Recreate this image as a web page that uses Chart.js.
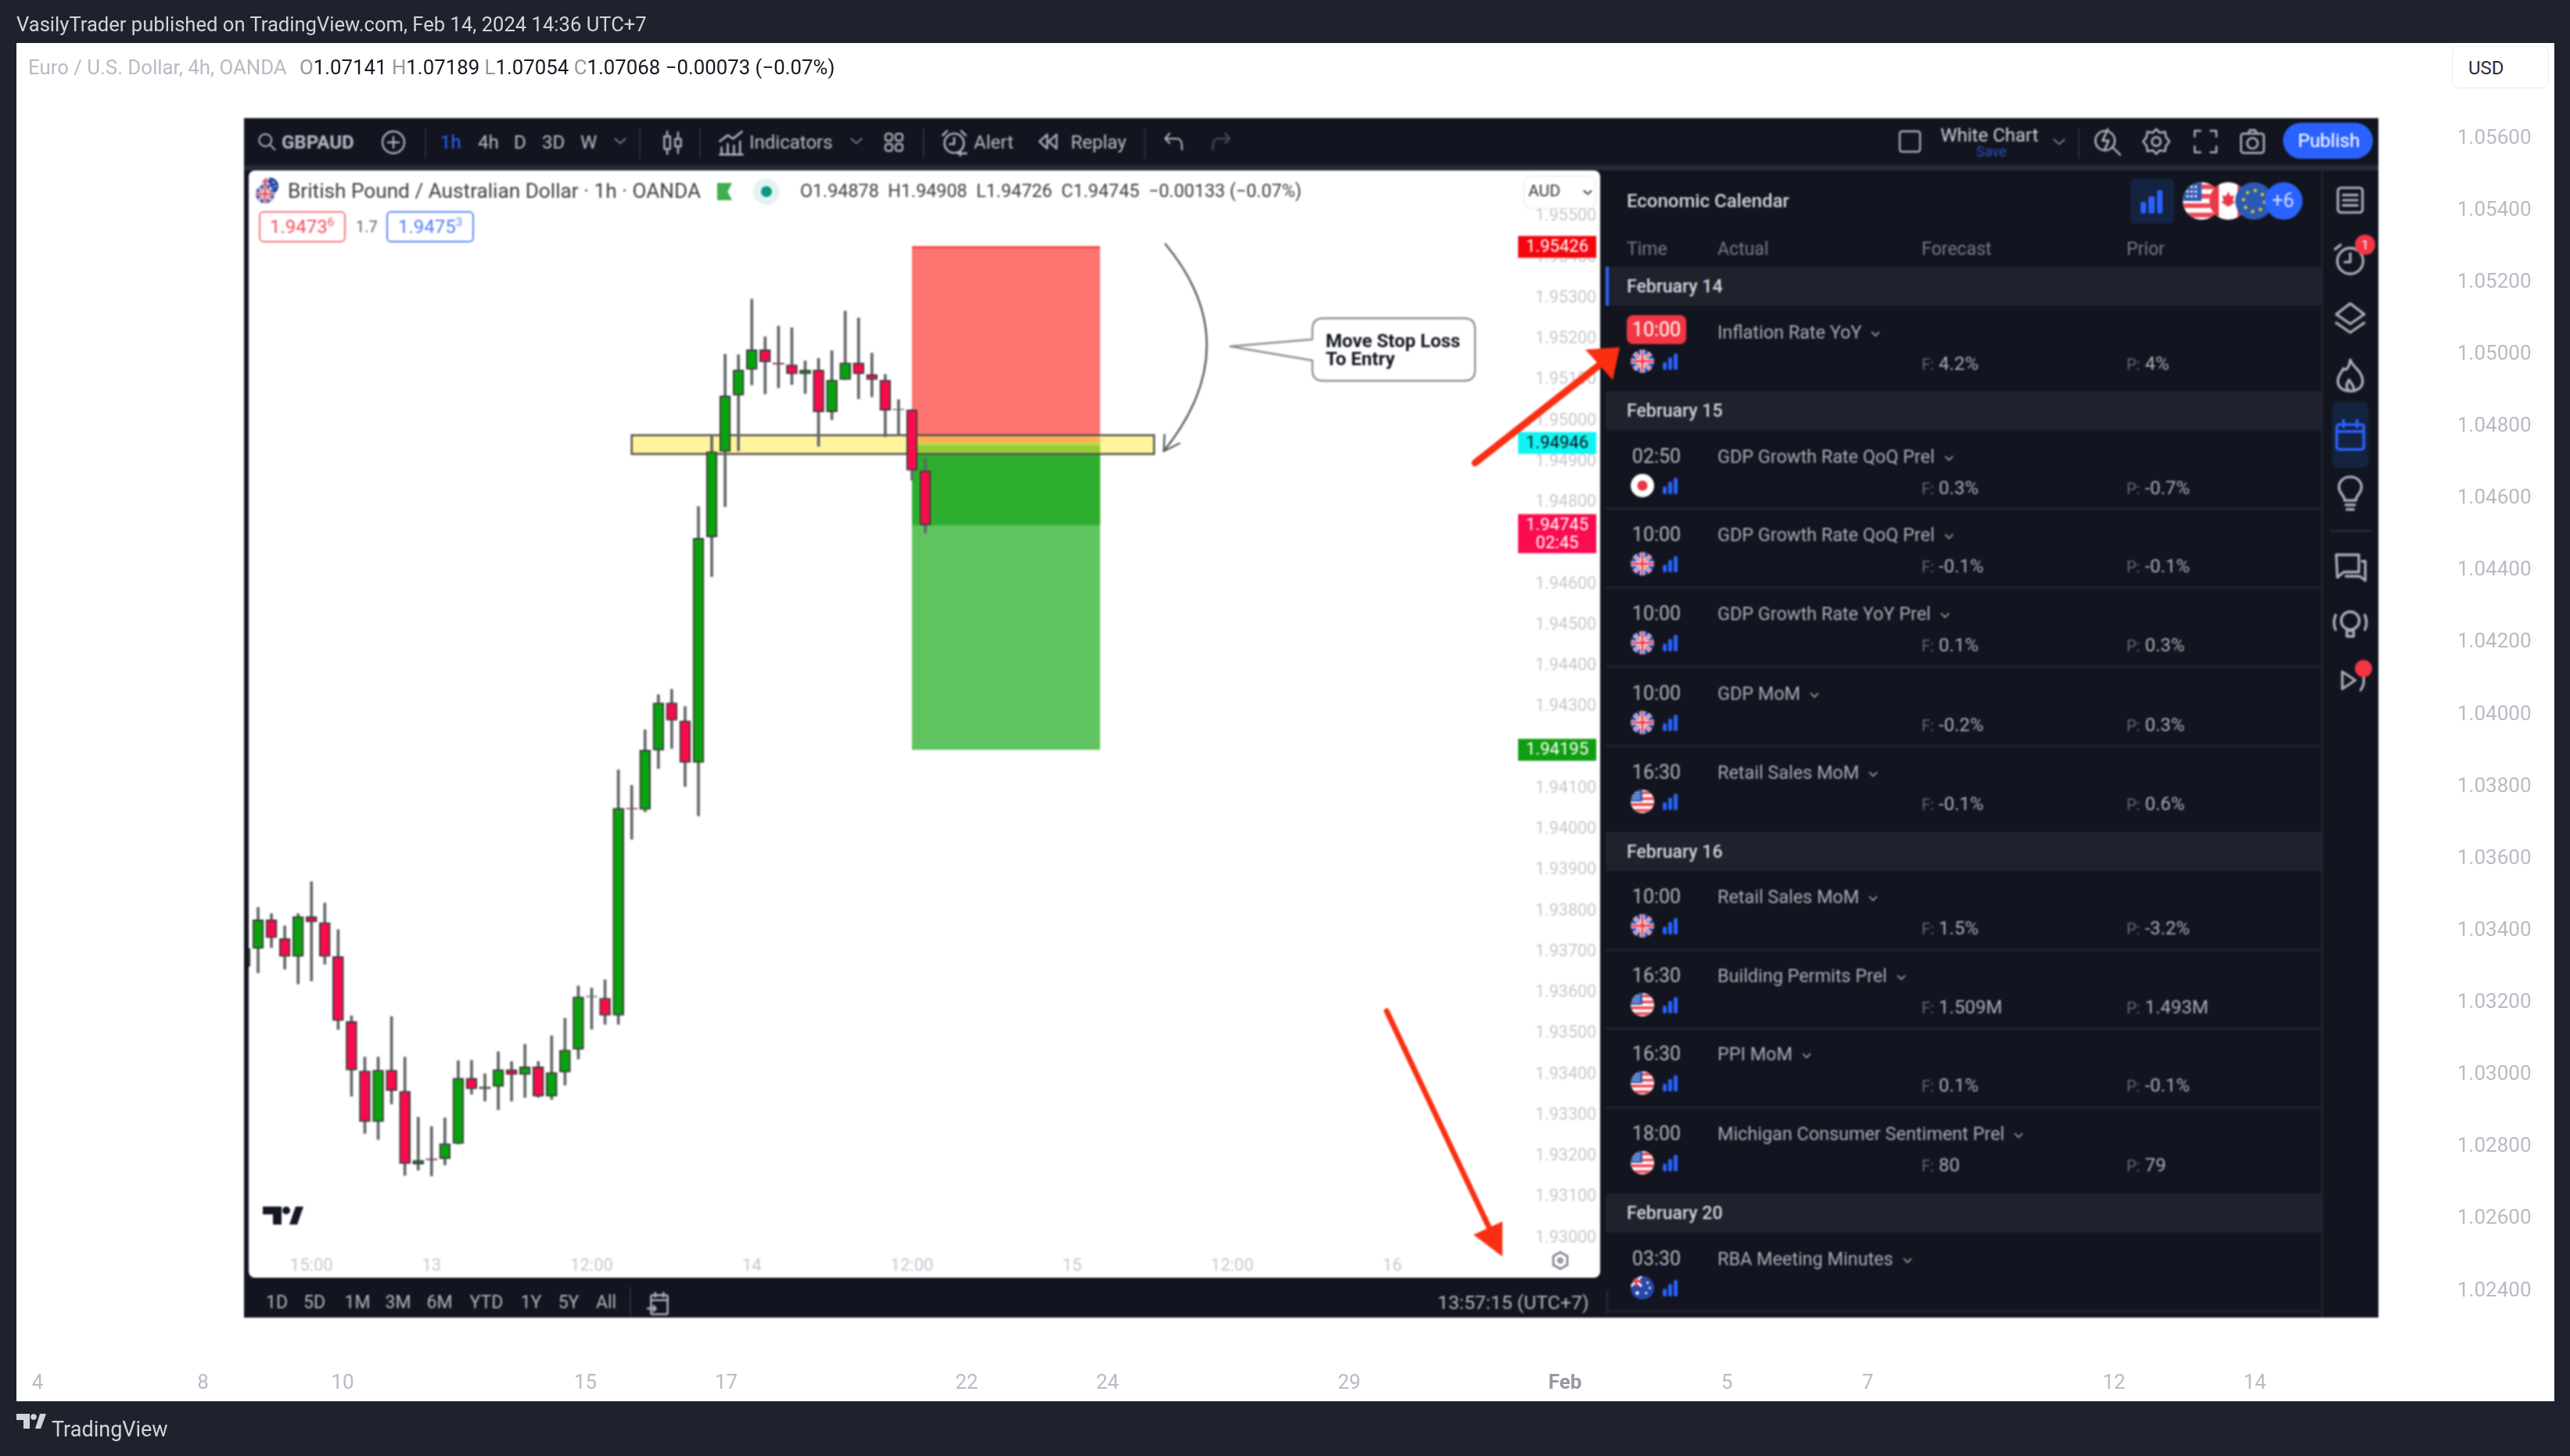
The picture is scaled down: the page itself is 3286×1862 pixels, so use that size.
<!DOCTYPE html>
<html>
<head>
<meta charset="utf-8">
<title>GBPAUD</title>
<script src="https://cdn.jsdelivr.net/npm/chart.js@4/dist/chart.umd.min.js"></script>
<style>
html, body { margin: 0; padding: 0; background: #1e222d; width: 3286px; height: 1862px; overflow: hidden; font-family: Roboto, sans-serif; }
#page { position: absolute; left: 0; top: 0; width: 3286px; height: 1862px; overflow: hidden; }
#outerWhite { position: absolute; left: 21px; top: 55px; width: 3245px; height: 1737px; background: #fff; }
#outerCanvas { position: absolute; left: 21px; top: 55px; }
#shot { position: absolute; left: 0; top: 0; width: 3286px; height: 1862px; filter: blur(0.8px); }
#chartCanvas { position: absolute; left: 318px; top: 218px; }
.box { position: absolute; }
.txt { position: absolute; white-space: nowrap; transform: translateY(-50%); line-height: 1.2; }
.ico { position: absolute; overflow: visible; fill: none; stroke: #a9acb6; stroke-width: 2.4; stroke-linecap: round; stroke-linejoin: round; }
.flag { position: absolute; border-radius: 50%; overflow: hidden; }
</style>
</head>
<body>
<div id="page">
  <div id="outerWhite"></div>
  <canvas id="outerCanvas" width="3245" height="1737"></canvas>
  <div id="shot"></div>
</div>
<script>
/* GBPAUD 1h candles. index -1 is the one cut by the left edge */
let barIndex = [-1,0,1,2,3,4,5,6,7,8,9,10,11,12,13,14,15,16,17,18,19,20,21,22,23,24,25,26,27,28,29,30,31,32,33,34,35,36,37,38,39,40,41,42,43,44,45,46,47,48,49,50]
let opens = [1.93665,1.93709,1.93779,1.93733,1.93689,1.93787,1.93772,1.93689,1.93530,1.93409,1.93285,1.93411,1.93359,1.93181,1.93194,1.93194,1.93231,1.93391,1.93365,1.93371,1.93412,1.93400,1.93419,1.93347,1.93406,1.93462,1.93590,1.93587,1.93545,1.94052,1.94049,1.94194,1.94310,1.94266,1.94164,1.94716,1.94925,1.95063,1.95126,1.95174,1.95142,1.95137,1.95115,1.95125,1.95022,1.95101,1.95142,1.95114,1.95100,1.95027,1.95027,1.94878]
let highs = [1.93725,1.93809,1.93794,1.93764,1.93794,1.93872,1.93820,1.93755,1.93544,1.93443,1.93443,1.93542,1.93443,1.93296,1.93273,1.93294,1.93434,1.93435,1.93402,1.93456,1.93432,1.93474,1.93432,1.93495,1.93538,1.93617,1.93612,1.93632,1.94146,1.94108,1.94244,1.94330,1.94343,1.94301,1.94791,1.94965,1.95163,1.95162,1.95298,1.95206,1.95232,1.95228,1.95147,1.95153,1.95172,1.95269,1.95252,1.95166,1.95114,1.95052,1.95028,1.94908]
let lows = [1.93630,1.93649,1.93711,1.93658,1.93622,1.93629,1.93670,1.93510,1.93347,1.93256,1.93241,1.93328,1.93153,1.93166,1.93152,1.93179,1.93230,1.93352,1.93335,1.93314,1.93335,1.93344,1.93344,1.93339,1.93374,1.93438,1.93511,1.93523,1.93523,1.93976,1.94043,1.94149,1.94198,1.94105,1.94033,1.94619,1.94790,1.94927,1.95088,1.95066,1.95081,1.95089,1.95067,1.94938,1.95003,1.95101,1.95054,1.95059,1.94961,1.94966,1.94855,1.94726]
let closes = [1.93709,1.93779,1.93735,1.93689,1.93787,1.93774,1.93689,1.93532,1.93411,1.93285,1.93411,1.93361,1.93182,1.93190,1.93191,1.93231,1.93391,1.93365,1.93370,1.93412,1.93400,1.93419,1.93347,1.93405,1.93460,1.93590,1.93592,1.93545,1.94052,1.94050,1.94194,1.94310,1.94267,1.94164,1.94713,1.94925,1.95061,1.95125,1.95174,1.95144,1.95139,1.95115,1.95125,1.95022,1.95100,1.95142,1.95115,1.95101,1.95026,1.95029,1.94879,1.94745]

let priceTicks = [1.955,1.954,1.953,1.952,1.951,1.950,1.949,1.948,1.947,1.946,1.945,1.944,1.943,1.942,1.941,1.940,1.939,1.938,1.937,1.936,1.935,1.934,1.933,1.932,1.931,1.930]
let timeTickBars = [4,13,25,37,49,61,73,85]
let timeTickLabels = ['15:00','13','12:00','14','12:00','15','12:00','16']

/* short position tool and the drawn zone */
let stopPrice = 1.95426
let entryPrice = 1.94946
let profitTop = 1.94940
let lastPrice = 1.94745
let targetPrice = 1.94195
let positionBars = [49, 63.1]
let zonePrices = [1.94965, 1.94919]
let zoneBars = [28, 67.15]

let tagPrices = [1.95426, 1.94946, 1.94745, 1.94195]
let tagLabels = [['1.95426'], ['1.94946'], ['1.94745', '02:45'], ['1.94195']]
let tagColors = ['#f5060f', '#10f4f4', '#fb0b4f', '#0f9e12']
let tagTextColors = ['#fff', '#111', '#fff', '#fff']

/* the EURUSD chart behind the screenshot only shows its axes */
let outerPriceTicks = [1.056,1.054,1.052,1.050,1.048,1.046,1.044,1.042,1.040,1.038,1.036,1.034,1.032,1.030,1.028,1.026,1.024]
let outerDayBars = [0,14.1,26,46.7,58.7,79.2,91.2,111.8,130.2,144,156,177,189]
let outerDayLabels = ['4','8','10','15','17','22','24','29','Feb','5','7','12','14']

/* calendar */
let rangeButtons = ['1D','5D','1M','3M','6M','YTD','1Y','5Y','All']
let dateLabels = ['February 14','February 15','February 16','February 20']
let eventTimes = ['10:00','02:50','10:00','10:00','10:00','16:30','10:00','16:30','16:30','18:00','03:30']
let eventNames = ['Inflation Rate YoY','GDP Growth Rate QoQ Prel','GDP Growth Rate QoQ Prel','GDP Growth Rate YoY Prel','GDP MoM','Retail Sales MoM','Retail Sales MoM','Building Permits Prel','PPI MoM','Michigan Consumer Sentiment Prel','RBA Meeting Minutes']
let eventFlags = ['uk','jp','uk','uk','uk','us','uk','us','us','us','au']
let eventForecast = ['4.2%','0.3%','-0.1%','0.1%','-0.2%','-0.1%','1.5%','1.509M','0.1%','80','']
let eventPrior = ['4%','-0.7%','-0.1%','0.3%','0.3%','0.6%','-3.2%','1.493M','-0.1%','79','']

/* layout of the screenshot, page pixels */
let dateRowY = [366, 525, 1089, 1551]
let eventRowY = [424, 583, 683, 784, 886, 987, 1146, 1247, 1347, 1449, 1609]
let separatorY = [650, 751, 852, 953, 1214, 1315, 1416, 1676]
let rangeButtonX = [354, 402, 457, 509, 562, 622, 679, 727, 775]

let shot = document.querySelector('#shot')

function box(x, y, w, h, bg, extra) {
    let d = document.createElement('div')
    d.className = 'box'
    d.style.cssText = `left:${x}px;top:${y}px;width:${w}px;height:${h}px;background:${bg};${extra || ''}`
    shot.appendChild(d)
    return d
}

function txt(s, x, y, size, color, extra, parent) {
    let d = document.createElement('div')
    d.className = 'txt'
    d.style.cssText = `left:${x}px;top:${y}px;font-size:${size}px;color:${color};${extra || ''}`
    d.innerHTML = s
    ;(parent || shot).appendChild(d)
    return d
}

// icon centred on x,y, drawn in a 32x32 box
function ico(x, y, size, inner, extra) {
    shot.insertAdjacentHTML('beforeend',
        `<svg class="ico" viewBox="0 0 32 32" style="left:${x - size / 2}px;top:${y - size / 2}px;width:${size}px;height:${size}px;${extra || ''}">${inner}</svg>`)
}

function chevronHtml(color) {
    return `<svg width="12" height="8" viewBox="0 0 12 8" style="margin-left:12px;vertical-align:middle;overflow:visible"><path d="M1 1.5 L6 6.5 L11 1.5" fill="none" stroke="${color}" stroke-width="1.8"/></svg>`
}

function flagHtml(kind, x, y, r) {
    let inner = ''
    if (kind == 'uk') {
        inner = '<rect width="32" height="32" fill="#2450b8"/><path d="M0 0L32 32M32 0L0 32" stroke="#fff" stroke-width="5"/><path d="M0 0L32 32M32 0L0 32" stroke="#e8394a" stroke-width="1.8"/><path d="M16 0V32M0 16H32" stroke="#fff" stroke-width="6"/><path d="M16 0V32M0 16H32" stroke="#e8394a" stroke-width="3"/>'
    } else if (kind == 'us') {
        inner = '<rect width="32" height="32" fill="#fff"/><path d="M16 4H32M16 12H32M0 20H32M0 28H32" stroke="#ef4a56" stroke-width="4"/><rect width="16" height="16" fill="#2f5bb0"/><path d="M3 4h10M3 8h10M3 12h10" stroke="#fff" stroke-width="1.6" stroke-dasharray="2 1.5"/>'
    } else if (kind == 'jp') {
        inner = '<rect width="32" height="32" fill="#fff"/><circle cx="16" cy="16" r="7" fill="#e8394a"/>'
    } else if (kind == 'ca') {
        inner = '<rect width="32" height="32" fill="#fff"/><rect width="8" height="32" fill="#e8394a"/><rect x="24" width="8" height="32" fill="#e8394a"/><path d="M16 8l2 4 3-1-1 5 2 1-6 4-6-4 2-1-1-5 3 1z" fill="#e8394a"/>'
    } else if (kind == 'eu') {
        inner = '<rect width="32" height="32" fill="#2a5ab4"/><circle cx="16" cy="16" r="9" fill="none" stroke="#f5c518" stroke-width="2.6" stroke-dasharray="2.4 4.6"/>'
    } else if (kind == 'au') {
        inner = '<rect width="32" height="32" fill="#2548a8"/><path d="M0 0L15 14M15 0L0 14" stroke="#fff" stroke-width="3"/><path d="M7.5 0V14M0 7H15" stroke="#e8394a" stroke-width="3"/><circle cx="23" cy="9" r="1.6" fill="#fff"/><circle cx="26" cy="16" r="1.6" fill="#fff"/><circle cx="21" cy="23" r="1.6" fill="#fff"/><circle cx="9" cy="23" r="2.4" fill="#fff"/>'
    }
    shot.insertAdjacentHTML('beforeend',
        `<svg class="flag" viewBox="0 0 32 32" style="left:${x - r}px;top:${y - r}px;width:${2 * r}px;height:${2 * r}px">${inner}</svg>`)
}

function importanceBars(x, y, w, h) {
    let bw = w * 0.26
    box(x, y + h * 0.5, bw, h * 0.5, '#2962ff', 'border-radius:2px')
    box(x + w * 0.37, y + h * 0.25, bw, h * 0.75, '#2962ff', 'border-radius:2px')
    box(x + w * 0.74, y, bw, h, '#2962ff', 'border-radius:2px')
}

/* dark screenshot frame */
let panelBg = '#12151f'
box(312, 151, 2729, 1534, panelBg)
box(312, 211, 2729, 7, '#262a35')
box(2968, 218, 2, 1467, '#23262f')
box(318, 218, 1728, 1416, '#fff', 'border-radius:8px')

let chartCanvas = document.createElement('canvas')
chartCanvas.id = 'chartCanvas'
chartCanvas.width = 1728
chartCanvas.height = 1416
shot.appendChild(chartCanvas)

/* top toolbar */
let toolGrey = '#b2b5be'
ico(341, 181, 28, '<circle cx="14" cy="14" r="9"/><path d="M21 21L28 28"/>')
txt('GBPAUD', 360, 182, 24, toolGrey, 'font-weight:700')
ico(503, 182, 32, '<circle cx="16" cy="16" r="14"/><path d="M16 9V23M9 16H23"/>')
let toolSeps = [543, 817, 894, 1180, 1463, 2657]
toolSeps.forEach(function(x) { box(x, 163, 2, 40, '#2a2e39') })
txt('1h', 563, 182, 24, '#2962ff')
txt('4h', 611, 182, 24, toolGrey)
txt('D', 657, 182, 24, toolGrey)
txt('3D', 693, 182, 24, toolGrey)
txt('W', 742, 182, 24, toolGrey)
ico(793, 180, 18, '<path d="M4 11L16 22L28 11"/>')
ico(860, 182, 34, '<rect x="6" y="9" width="7" height="15"/><path d="M9.5 3V9M9.5 24V30"/><rect x="19" y="12" width="7" height="9"/><path d="M22.5 4V12M22.5 21V29"/>')
ico(935, 183, 36, '<path d="M3 14L12 7L18 11L28 3"/><path d="M5 29V21M12 29V17M19 29V19M26 29V14M3 29H29"/>')
txt('Indicators', 958, 182, 24, toolGrey)
ico(1095, 180, 18, '<path d="M4 11L16 22L28 11"/>')
ico(1143, 182, 32, '<rect x="5" y="5" width="9" height="9" rx="3"/><rect x="18" y="5" width="9" height="9" rx="3"/><rect x="5" y="18" width="9" height="9" rx="3"/><rect x="18" y="18" width="9" height="9" rx="3"/>')
ico(1220, 182, 36, '<circle cx="16" cy="17" r="11"/><path d="M3 8L8 3M29 8L24 3M16 11V18H11M23 26V31M20 28.5H30"/>')
txt('Alert', 1245, 182, 24, toolGrey)
ico(1340, 181, 32, '<path d="M15 7L5 16L15 25ZM27 7L17 16L27 25Z"/>')
txt('Replay', 1369, 182, 24, toolGrey)
ico(1501, 181, 30, '<path d="M10 5L4 12L10 18M4 12H20C26 12 27 18 27 27"/>')
ico(1561, 181, 30, '<path d="M22 5L28 12L22 18M28 12H12C6 12 5 18 5 27"/>', 'stroke:#4a4d58')
ico(2442, 181, 32, '<rect x="3" y="3" width="26" height="26" rx="3"/>')
txt('White Chart', 2481, 173, 24, '#c6c8cf')
txt('Save', 2527, 194, 18, '#2150c4')
ico(2633, 181, 18, '<path d="M4 11L16 22L28 11"/>')
ico(2695, 181, 36, '<circle cx="13" cy="15" r="11"/><path d="M22 23L30 31M16 2L10 15H17L12 26" />')
ico(2757, 181, 36, '<circle cx="16" cy="16" r="5"/><path d="M16 2L20 6L26 5L27 11L31 16L27 21L26 27L20 26L16 30L12 26L6 27L5 21L1 16L5 11L6 5L12 6Z"/>')
ico(2820, 181, 34, '<path d="M3 10V3H10M22 3H29V10M29 22V29H22M10 29H3V22"/>')
ico(2880, 181, 36, '<rect x="3" y="7" width="26" height="22" rx="3"/><circle cx="16" cy="18" r="6"/><path d="M11 7L13 3H19L21 7"/>')
box(2919, 157, 115, 46, '#2962ff', 'border-radius:23px')
txt('Publish', 2938, 180, 24, '#fff')

/* legend on the GBPAUD chart */
flagHtml('au', 345, 238, 11)
flagHtml('uk', 339, 248, 12)
txt('British Pound / Australian Dollar · 1h · OANDA', 368, 245, 26.2, '#3c3f48')
box(917, 234, 19, 22, '#3fae4c', 'clip-path:polygon(0 0,100% 0,70% 50%,100% 100%,0 100%)')
box(963, 228, 34, 34, '#e5f3f0', 'border-radius:50%')
box(973, 238, 14, 14, '#089981', 'border-radius:50%')
txt('O1.94878&nbsp; H1.94908&nbsp; L1.94726&nbsp; C1.94745&nbsp; −0.00133 (−0.07%)', 1023, 245, 23.3, '#3c3f48')
box(331, 270, 107, 36, '#fff', 'border:2px solid #f7767f;border-radius:6px')
txt('1.9473<sup style="font-size:15px">6</sup>', 345, 290, 24, '#f7525f')
txt('1.7', 455, 290, 20, '#5d606b')
box(494, 270, 108, 36, '#fff', 'border:2px solid #5c88f5;border-radius:6px')
txt('1.9475<sup style="font-size:15px">3</sup>', 509, 290, 24, '#4f7ff5')
box(1948, 225, 90, 40, '#fff', 'border:1px solid #e6e8ee;border-radius:8px')
txt('AUD', 1954, 245, 21, '#3c3f48')
ico(2030, 246, 12, '<path d="M4 11L16 22L28 11"/>', 'stroke:#555;stroke-width:6')

/* TradingView mark, callout, curved arrow and the two red arrows */
let overlay = `<svg class="ico" viewBox="0 0 3286 1862" style="left:0;top:0;width:3286px;height:1862px;stroke:none">
<path d="M1490 312 Q1597 441 1488 577" fill="none" stroke="#5c5f66" stroke-width="2.5"/>
<path d="M1489 556 L1488 577 L1508 567" fill="none" stroke="#5c5f66" stroke-width="2.5"/>
<path d="M1692 407 H1872 Q1886 407 1886 421 V473 Q1886 487 1872 487 H1692 Q1678 487 1678 473 V461 L1573 443 L1678 434 V421 Q1678 407 1692 407Z" fill="#fff" stroke="#8d9096" stroke-width="2.4"/>
<line x1="1886" y1="592" x2="2046" y2="466" stroke="#fa2f12" stroke-width="9"/>
<path d="M2071 444 L2027 447 L2062 486Z" fill="#fa2f12"/>
<line x1="1773" y1="1293" x2="1905" y2="1572" stroke="#fa2f12" stroke-width="7"/>
<path d="M1921 1607 L1884 1579 L1921 1562Z" fill="#fa2f12"/>
<path d="M336 1543 H360 V1566 H349 V1553 H336Z M370 1566 L378 1543 H388 L380 1566Z" fill="#131722"/>
<circle cx="366" cy="1548" r="5" fill="#131722"/>
</svg>`
shot.insertAdjacentHTML('beforeend', overlay)
txt('Move Stop Loss', 1695, 436, 24, '#131722', 'font-weight:700')
txt('To Entry', 1695, 459, 24, '#131722', 'font-weight:700')
ico(1995, 1612, 26, '<path d="M16 3L27 9V23L16 29L5 23V9Z"/><circle cx="16" cy="16" r="3"/>', 'stroke:#777b85;stroke-width:3')

/* bottom bar */
rangeButtons.forEach(function(name, i) {
    let d = txt(name, rangeButtonX[i], 1666, 23, toolGrey, 'transform:translate(-50%,-50%)')
})
box(805, 1646, 2, 38, '#2a2e39')
ico(843, 1667, 34, '<rect x="6" y="6" width="20" height="23" rx="2"/><path d="M6 12H26M11 3V8M21 3V8M2 22H12M9 19L12 22L9 25"/>')
txt('13:57:15 (UTC+7)', 1838, 1666, 24.8, toolGrey)
box(2054, 1650, 2, 30, '#2a2e39')

/* calendar panel */
txt('Economic Calendar', 2080, 257, 24, '#d1d4dc', 'font-weight:500')
box(2724, 228, 56, 58, '#14233f', 'border-radius:6px')
importanceBars(2737, 243, 28, 30)
flagHtml('us', 2815, 257, 24)
flagHtml('ca', 2849, 257, 24)
flagHtml('eu', 2882, 257, 24)
box(2896, 233, 48, 48, '#2962ff', 'border-radius:50%')
txt('+6', 2905, 257, 25, '#d4def8')
txt('Time', 2080, 319, 23, '#787b86')
txt('Actual', 2196, 319, 23, '#787b86')
txt('Forecast', 2457, 319, 23, '#787b86')
txt('Prior', 2719, 319, 23, '#787b86')

dateRowY.forEach(function(y, i) {
    box(2053, y - 25, 915, 50, '#1e222d')
    txt(dateLabels[i], 2080, y + 1, 23, '#d1d4dc', 'font-weight:500')
})
box(2053, 341, 4, 50, '#2962ff')
separatorY.forEach(function(y) { box(2053, y - 1, 915, 3, '#1e222d') })

eventRowY.forEach(function(y, i) {
    if (i == 0) {
        box(2080, y - 21, 76, 37, '#f23645', 'border-radius:8px')
        txt(eventTimes[i], 2118, y - 2, 25, '#fff', 'transform:translate(-50%,-50%)')
    } else {
        txt(eventTimes[i], 2118, y + 1, 25, '#b2b5be', 'transform:translate(-50%,-50%)')
    }
    txt(eventNames[i] + chevronHtml('#9598a1'), 2196, y + 1, 23.4, '#a9acb6')
    flagHtml(eventFlags[i], 2100, y + 38, 15)
    importanceBars(2126, y + 28, 19, 21)
    if (eventForecast[i] != '') {
        txt('<span style="font-size:20px;color:#676a75">F:</span> ' + eventForecast[i], 2457, y + 41, 24, '#a9acb6')
        txt('<span style="font-size:20px;color:#676a75">P:</span> ' + eventPrior[i], 2719, y + 41, 24, '#a9acb6')
    }
})

/* right side bar */
ico(3005, 256, 42, '<rect x="4" y="4" width="24" height="24" rx="3"/><path d="M9 11H23M9 16H23M9 21H23"/>')
ico(3005, 331, 44, '<circle cx="16" cy="18" r="12"/><path d="M2 7L7 3M16 11V19H11"/>')
box(3011, 300, 26, 26, '#f23645', 'border-radius:50%')
txt('1', 3024, 313, 17, '#fff', 'transform:translate(-50%,-50%)')
ico(3005, 406, 44, '<path d="M16 3L29 13L16 22L3 13Z"/><path d="M3 21L16 30L29 21"/>')
ico(3005, 480, 46, '<path d="M16 2C18 9 27 12 27 21C27 27 22 30 16 30C10 30 5 27 5 21C5 16 8 14 10 10C12 12 15 10 16 2Z"/><path d="M16 30C12 28 12 24 15 20C16 23 20 24 19 30"/>')
box(2982, 514, 46, 84, '#14233f', 'border-radius:6px')
ico(3005, 556, 46, '<rect x="4" y="7" width="24" height="22" rx="2"/><path d="M4 13H28M10 3V9M22 3V9"/>', 'stroke:#2962ff')
ico(3005, 630, 46, '<path d="M11 23C11 18 6 17 6 11C6 6 10 2 16 2C22 2 26 6 26 11C26 17 21 18 21 23ZM12 27H20M13 31H19"/>')
box(2979, 678, 54, 2, '#2a2e39')
ico(3005, 726, 44, '<path d="M3 4H24V20H10L4 25ZM27 10H30V28L25 24H12"/>')
ico(3005, 798, 46, '<circle cx="16" cy="13" r="8"/><path d="M13 22H19V27H13ZM3 8C1 13 1 17 3 21M29 8C31 13 31 17 29 21"/>')
ico(3010, 870, 44, '<path d="M5 8L17 16L5 24ZM22 7C26 12 26 20 22 25"/>')
box(3011, 844, 22, 22, '#f23645', 'border-radius:50%')

/* top bar, outer legend, footer: outside the blurred screenshot */
let page = document.querySelector('#page')
txt('VasilyTrader published on TradingView.com, Feb 14, 2024 14:36 UTC+7', 21, 31, 25.6, '#d1d4dc', '', page)
let lg = function(k, v) { return `<span style="color:#9598a1">${k}</span><span style="color:#131722">${v}</span>&nbsp;` }
txt('Euro / U.S. Dollar, 4h, OANDA', 36, 86, 25.8, '#b8bbc4', '', page)
txt(lg('O', '1.07141') + lg('H', '1.07189') + lg('L', '1.07054') + lg('C', '1.07068') + '<span style="color:#131722">−0.00073 (−0.07%)</span>', 383, 86, 25.8, '#131722', '', page)
let usdBox = document.createElement('div')
usdBox.className = 'box'
usdBox.style.cssText = 'left:3135px;top:59px;width:124px;height:54px;background:#fff;border:1px solid #e8eaf0;border-radius:8px;box-sizing:border-box'
page.appendChild(usdBox)
txt('USD', 3156, 87, 24, '#2a2e39', '', page)
page.insertAdjacentHTML('beforeend', `<svg class="ico" viewBox="0 0 3286 1862" style="left:0;top:0;width:3286px;height:1862px;stroke:none"><path d="M21 1808 H38 V1827 H30 V1816 H21Z M45 1827 L51 1808 H59 L52 1827Z" fill="#d1d4dc"/><circle cx="43" cy="1812" r="3.8" fill="#d1d4dc"/></svg>`)
txt('TradingView', 66, 1828, 27, '#d1d4dc', '', page)

/* shaded tool and zone go under the candles, tags go over the axis */
let toolPlugin = {
    id: 'toolPlugin',
    beforeDatasetsDraw(chart) {
        let c = chart.ctx, x = chart.scales.x, y = chart.scales.y
        function rect(b0, b1, p0, p1, fill) {
            let x0 = x.getPixelForValue(b0), x1 = x.getPixelForValue(b1)
            let y0 = y.getPixelForValue(p0), y1 = y.getPixelForValue(p1)
            c.fillStyle = fill
            c.fillRect(x0, y0, x1 - x0, y1 - y0)
        }
        c.save()
        rect(positionBars[0], positionBars[1], stopPrice, entryPrice, '#fe7470')
        rect(positionBars[0], positionBars[1], entryPrice, targetPrice, '#5fc45f')
        rect(positionBars[0], positionBars[1], profitTop, lastPrice, '#2eae2e')
        // thin stop line along the top of the red box
        c.fillStyle = '#fb4a45'
        c.fillRect(x.getPixelForValue(positionBars[0]), y.getPixelForValue(stopPrice) - 1, x.getPixelForValue(positionBars[1]) - x.getPixelForValue(positionBars[0]), 3)
        rect(zoneBars[0], zoneBars[1], zonePrices[0], zonePrices[1], 'rgba(255,235,59,0.5)')
        c.strokeStyle = '#55534a'
        c.lineWidth = 2.5
        let zx0 = x.getPixelForValue(zoneBars[0]), zx1 = x.getPixelForValue(zoneBars[1])
        let zy0 = y.getPixelForValue(zonePrices[0]), zy1 = y.getPixelForValue(zonePrices[1])
        c.strokeRect(zx0, zy0, zx1 - zx0, zy1 - zy0)
        c.restore()
    },
    afterDraw(chart) {
        let c = chart.ctx, y = chart.scales.y
        let left = chart.chartArea.right - 4
        c.save()
        c.textBaseline = 'middle'
        c.textAlign = 'center'
        c.font = '22px Roboto'
        tagPrices.forEach(function(p, i) {
            let py = y.getPixelForValue(p)
            let lines = tagLabels[i]
            let h = lines.length > 1 ? 50 : 28
            c.fillStyle = tagColors[i]
            c.fillRect(left, py - 14, 100, h)
            c.fillStyle = tagTextColors[i]
            lines.forEach(function(s, j) { c.fillText(s, left + 50, py + 1 + j * 23) })
        })
        c.restore()
    }
}

/* one thin bar for high-low, one floating bar for open-close */
let wickData = barIndex.map(function(b, i) { return { x: b, y: [lows[i], highs[i]] } })
let bodyData = barIndex.map(function(b, i) { return { x: b, y: [opens[i], closes[i]] } })
let bodyColors = barIndex.map(function(b, i) { return closes[i] >= opens[i] ? '#0aa30f' : '#f90b4c' })

let ctx = chartCanvas.getContext('2d')
let gbpChart = new Chart(ctx, {
    type: 'bar',
    data: {
        datasets: [
            { data: bodyData, backgroundColor: bodyColors, borderColor: '#3a3d3a', borderWidth: 2, borderSkipped: false, barThickness: 14, grouped: false, order: 1 },
            { data: wickData, backgroundColor: '#62646a', borderWidth: 0, barThickness: 3, grouped: false, order: 2 }
        ]
    },
    options: {
        responsive: false,
        animation: false,
        devicePixelRatio: 1,
        layout: { padding: 0 },
        plugins: { legend: { display: false }, tooltip: { enabled: false } },
        scales: {
            x: {
                type: 'linear',
                min: -0.703,
                max: 94.66,
                offset: false,
                afterFit(scale) { scale.height = 44; scale.paddingLeft = 0; scale.paddingRight = 0 },
                afterBuildTicks(scale) { scale.ticks = timeTickBars.map(function(v) { return { value: v } }) },
                grid: { display: false },
                border: { display: false },
                ticks: {
                    autoSkip: false,
                    maxRotation: 0,
                    padding: 8,
                    color: '#c6c8cf',
                    font: { family: 'Roboto', size: 22 },
                    callback: function(v) { return timeTickLabels[timeTickBars.indexOf(v)] }
                }
            },
            y: {
                position: 'right',
                min: 1.92987,
                max: 1.95613,
                afterFit(scale) { scale.width = 101; scale.paddingTop = 0; scale.paddingBottom = 0 },
                afterBuildTicks(scale) { scale.ticks = priceTicks.map(function(v) { return { value: v } }) },
                grid: { display: false },
                border: { display: false },
                ticks: {
                    autoSkip: false,
                    padding: 10,
                    color: '#c6c8cf',
                    font: { family: 'Roboto', size: 21.5 },
                    callback: function(v) { return v.toFixed(5) }
                }
            }
        }
    },
    plugins: [toolPlugin]
})

/* the outer EURUSD chart: axes only, the picture hides its candles */
let outerCtx = document.querySelector('#outerCanvas').getContext('2d')
let outerChart = new Chart(outerCtx, {
    type: 'line',
    data: { datasets: [{ data: [] }] },
    options: {
        responsive: false,
        animation: false,
        devicePixelRatio: 1,
        layout: { padding: 0 },
        plugins: { legend: { display: false }, tooltip: { enabled: false } },
        scales: {
            x: {
                type: 'linear',
                min: -1.8,
                max: 204.8,
                afterFit(scale) { scale.height = 52; scale.paddingLeft = 0; scale.paddingRight = 0 },
                afterBuildTicks(scale) { scale.ticks = outerDayBars.map(function(v) { return { value: v } }) },
                grid: { display: false },
                border: { display: false },
                ticks: {
                    autoSkip: false,
                    maxRotation: 0,
                    padding: 6,
                    color: function(c) { return c.tick && c.tick.label == 'Feb' ? '#9598a1' : '#b8bbc4' },
                    font: function(c) { return { family: 'Roboto', size: 26, weight: c.tick && c.tick.label == 'Feb' ? 'bold' : 'normal' } },
                    callback: function(v) { return outerDayLabels[outerDayBars.indexOf(v)] }
                }
            },
            y: {
                position: 'right',
                min: 1.022068,
                max: 1.05865,
                afterFit(scale) { scale.width = 146; scale.paddingTop = 0; scale.paddingBottom = 0 },
                afterBuildTicks(scale) { scale.ticks = outerPriceTicks.map(function(v) { return { value: v } }) },
                grid: { display: false },
                border: { display: false },
                ticks: {
                    autoSkip: false,
                    padding: 14,
                    color: '#b8bbc4',
                    font: { family: 'Roboto', size: 26 },
                    callback: function(v) { return v.toFixed(5) }
                }
            }
        }
    }
})
</script>
</body>
</html>
